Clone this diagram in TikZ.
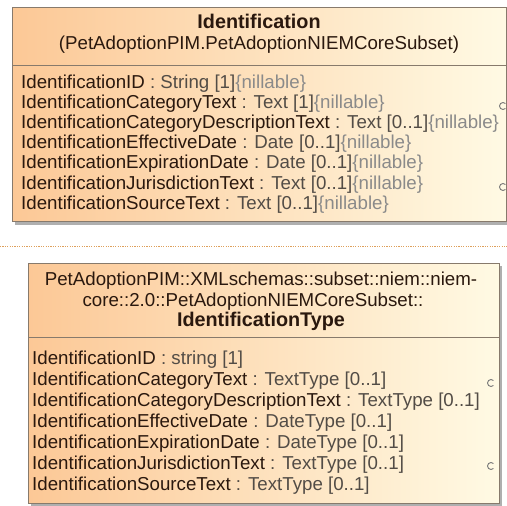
\documentclass[tikz,border=0pt]{standalone}
\usepackage{fontspec}
\setmainfont{Liberation Sans}
\definecolor{namecol}{RGB}{42,24,14}
\definecolor{typecol}{RGB}{82,76,70}
\definecolor{nilcol}{RGB}{138,138,138}
\definecolor{markcol}{RGB}{120,120,120}
\definecolor{boxleft}{RGB}{252,200,150}
\definecolor{boxright}{RGB}{255,250,228}
\definecolor{boxline}{RGB}{135,122,108}
\definecolor{shadowcol}{RGB}{175,175,175}
\definecolor{dotcol}{RGB}{222,160,92}
\newcommand\aname[1]{\textcolor{namecol}{#1}}
\newcommand\nilla{\textcolor{nilcol}{\{nillable\}}}
\begin{document}
\begin{tikzpicture}[x=1pt, y=-1pt,
  font=\fontsize{18.7}{20}\selectfont,
  attr/.style={anchor=west, inner sep=0pt, text height=13.3pt, text depth=0pt, text=typecol},
  head/.style={inner sep=0pt, text height=13.3pt, text depth=0pt, text=namecol},
  headbold/.style={head, font=\fontsize{19.8}{22}\selectfont\bfseries},
  classbox/.style={draw=boxline, line width=0.8pt, left color=boxleft, right color=boxright},
  shadow/.style={fill=shadowcol},
  portmark/.style={draw=markcol, line width=0.9pt}]
  \useasboundingbox[fill=white] (0,0) rectangle (507,506);

  % Identification class
  \fill[shadow] (15,10) rectangle (510,225);
  \draw[classbox] (12,7) rectangle (506,221);
  \draw[boxline, line width=0.8pt] (12,65) -- (506,65);
  \node[headbold] (idTitle) at (259,22) {Identification};
  \node[head] (idPkg) at (259,43) {(PetAdoptionPIM.PetAdoptionNIEMCoreSubset)};
  \node[attr] (idA1) at (21,81.5) {\aname{IdentificationID} : String [1]\nilla};
  \node[attr] (idA2) at (21,101.7) {\aname{IdentificationCategoryText} : Text [1]\nilla};
  \node[attr] (idA3) at (21,121.9) {\aname{IdentificationCategoryDescriptionText} : Text [0..1]\nilla};
  \node[attr] (idA4) at (21,142.1) {\aname{IdentificationEffectiveDate} : Date [0..1]\nilla};
  \node[attr] (idA5) at (21,162.3) {\aname{IdentificationExpirationDate} : Date [0..1]\nilla};
  \node[attr] (idA6) at (21,182.5) {\aname{IdentificationJurisdictionText} : Text [0..1]\nilla};
  \node[attr] (idA7) at (21,202.7) {\aname{IdentificationSourceText} : Text [0..1]\nilla};
  \draw[portmark] (503,106) ++(45:3.5) arc[start angle=45, end angle=315, radius=3.5];
  \draw[portmark] (503,187) ++(45:3.5) arc[start angle=45, end angle=315, radius=3.5];

  % dotted divider
  \draw[dotcol, line width=0.8pt, dash pattern=on 1.2pt off 1.2pt] (0,246) -- (507,246);

  % IdentificationType class
  \fill[shadow] (31,266) rectangle (502,506);
  \draw[classbox] (28,263) rectangle (499,503);
  \draw[boxline, line width=0.8pt] (28,337) -- (499,337);
  \node[head] (tyPkgA) at (261,279) {PetAdoptionPIM::XMLschemas::subset::niem::niem-};
  \node[head] (tyPkgB) at (253,300) {core::2.0::PetAdoptionNIEMCoreSubset::};
  \node[headbold] (tyTitle) at (261,320) {IdentificationType};
  \node[attr] (tyA1) at (32,358) {\aname{IdentificationID} : string [1]};
  \node[attr] (tyA2) at (32,379) {\aname{IdentificationCategoryText} : TextType [0..1]};
  \node[attr] (tyA3) at (32,400) {\aname{IdentificationCategoryDescriptionText} : TextType [0..1]};
  \node[attr] (tyA4) at (32,421) {\aname{IdentificationEffectiveDate} : DateType [0..1]};
  \node[attr] (tyA5) at (32,442) {\aname{IdentificationExpirationDate} : DateType [0..1]};
  \node[attr] (tyA6) at (32,463) {\aname{IdentificationJurisdictionText} : TextType [0..1]};
  \node[attr] (tyA7) at (32,484) {\aname{IdentificationSourceText} : TextType [0..1]};
  \draw[portmark] (491,383) ++(45:3.5) arc[start angle=45, end angle=315, radius=3.5];
  \draw[portmark] (491,466) ++(45:3.5) arc[start angle=45, end angle=315, radius=3.5];
\end{tikzpicture}
\end{document}
